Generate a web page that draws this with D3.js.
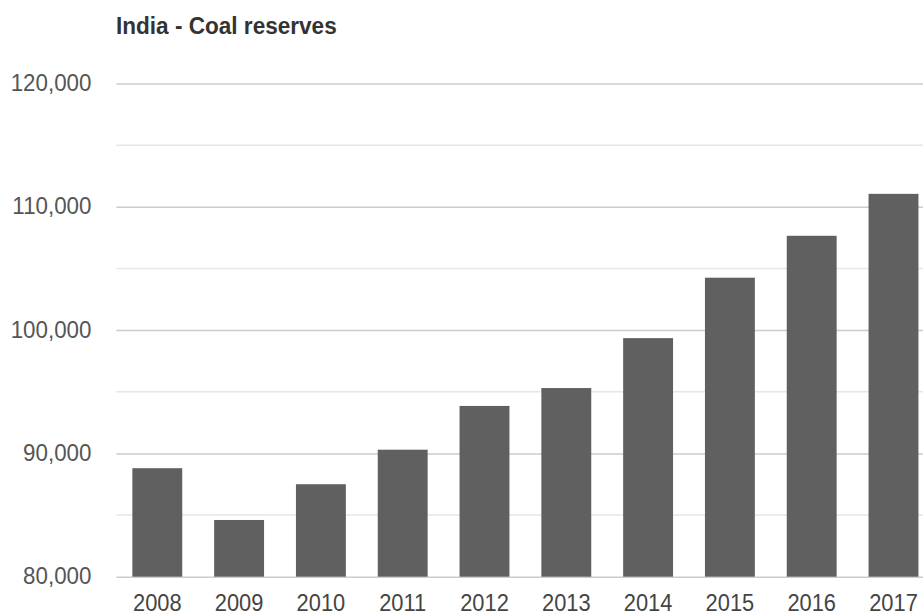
<!DOCTYPE html>
<html>
<head>
<meta charset="utf-8">
<script src="https://cdn.jsdelivr.net/npm/d3@7"></script>
<style>
  body { margin: 0; background: #fff; }
  text { font-family: "Liberation Sans", Arial, sans-serif; }
</style>
</head>
<body>
<script>
var width = 923;
var height = 616;

// data
var years = ["2008", "2009", "2010", "2011", "2012", "2013", "2014", "2015", "2016", "2017"];
var reserves = [88800, 84600, 87500, 90300, 93850, 95300, 99350, 104250, 107650, 111050];
var majorTicks = [80000, 90000, 100000, 110000, 120000];
var minorTicks = [85000, 95000, 105000, 115000];
var title = "India - Coal reserves";

var left = 116.4, step = 81.8;
var x = d3.scaleBand()
          .domain(years)
          .range([left, left + step * years.length])
          .paddingInner(0.39)
          .paddingOuter(0.195);
var y = d3.scaleLinear()
          .domain([80000, 120000])
          .range([576.7, 83.5]);

var svg = d3.select("body")
            .append("svg")
            .attr("width", width)
            .attr("height", height);

// squeeze text a bit, the original font is narrow and tall
function narrow(sel, k) {
  sel.each(function () {
    var len = this.getComputedTextLength();
    d3.select(this)
      .attr("textLength", len * k)
      .attr("lengthAdjust", "spacingAndGlyphs");
  });
}

// minor grid
svg.append("g")
   .selectAll("line")
   .data(minorTicks)
   .enter()
   .append("line")
   .attr("x1", left)
   .attr("x2", width)
   .attr("y1", d => y(d))
   .attr("y2", d => y(d))
   .attr("stroke", "#e6e6e6")
   .attr("stroke-width", 1.5);

// major grid + labels
var yAxis = svg.append("g")
               .attr("transform", "translate(" + left + ",0)")
               .call(d3.axisLeft(y)
                       .tickValues(majorTicks)
                       .tickSize(-(width - left))
                       .tickPadding(25)
                       .tickFormat(d3.format(",")));
yAxis.select(".domain").remove();
yAxis.selectAll(".tick line")
     .attr("stroke", "#cccccc")
     .attr("stroke-width", 1.5);
yAxis.selectAll(".tick text")
     .attr("fill", "#555")
     .attr("font-size", 23.5)
     .attr("dy", "0.3em")
     .attr("font-family", "Liberation Sans, Arial, sans-serif")
     .call(narrow, 0.95);

// bars
svg.append("g")
   .selectAll("rect")
   .data(reserves)
   .enter()
   .append("rect")
   .attr("x", (d, i) => x(years[i]))
   .attr("y", d => y(d))
   .attr("width", x.bandwidth())
   .attr("height", d => y(80000) - y(d))
   .attr("fill", "#606060");

// x labels
var xAxis = svg.append("g")
               .attr("transform", "translate(0," + y(80000) + ")")
               .call(d3.axisBottom(x).tickSize(0).tickPadding(18));
xAxis.select(".domain").remove();
xAxis.selectAll(".tick text")
     .attr("fill", "#444")
     .attr("font-size", 23.5)
     .attr("font-family", "Liberation Sans, Arial, sans-serif")
     .call(narrow, 0.93);

// title
svg.append("text")
   .attr("x", 116)
   .attr("y", 34)
   .attr("font-size", 23.5)
   .attr("font-weight", "bold")
   .attr("fill", "#333")
   .text(title)
   .call(narrow, 0.96);
</script>
</body>
</html>
